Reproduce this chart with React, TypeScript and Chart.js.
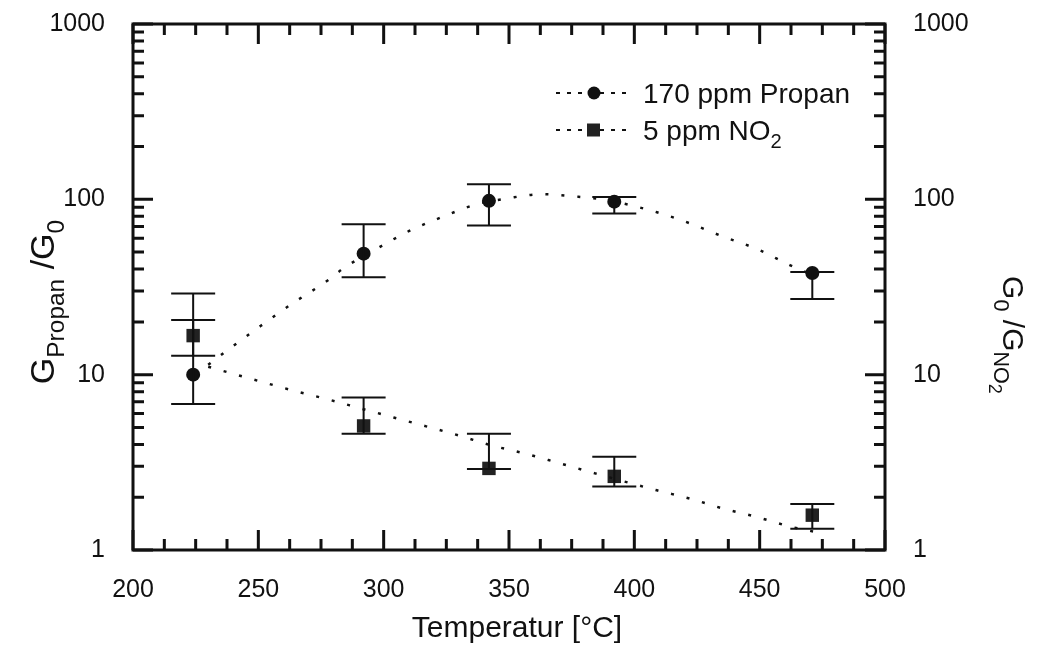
import React, { useEffect, useRef } from 'react';
import { Chart, registerables } from 'chart.js';

Chart.register(...registerables);

// ---- data ----
const temperatures = [224, 292, 342, 392, 471];
const propanValues = [10, 49, 98, 97, 38];
const propanLower = [6.8, 36, 71, 83, 27];
const propanUpper = [20.5, 72, 122, 103, 38.5];
const no2Values = [16.7, 5.1, 2.92, 2.63, 1.58];
const no2Lower = [12.8, 4.6, 2.9, 2.3, 1.32];
const no2Upper = [29, 7.4, 4.6, 3.4, 1.83];

const propanFitX = [230, 238, 251, 264, 278, 284, 297, 310, 324, 337, 349, 363, 376, 389, 409, 422, 435, 449, 462, 472];
const propanFitY = [11.4, 13.9, 19.0, 25.7, 34.7, 40.5, 52, 65.8, 80, 93.7, 101, 107, 104, 99, 84.4, 73.1, 61.6, 52, 42.2, 36.5];
const no2FitX = [230, 238, 251, 264, 278, 291, 304, 317, 330, 343, 356, 369, 383, 409, 423, 435, 449, 463, 472];
const no2FitY = [11.1, 10.3, 9.13, 8.11, 7.21, 6.41, 5.7, 5.07, 4.5, 3.95, 3.56, 3.16, 2.77, 2.19, 1.95, 1.73, 1.54, 1.35, 1.27];

const xTickLabels = [200, 250, 300, 350, 400, 450, 500];
const yTickLabels = [1, 10, 100, 1000];
const xMinorStep = 12.5;

const legendLabels = ['170 ppm Propan', '5 ppm NO'];
const xTitle = 'Temperatur [°C]';

const FONT = '"Liberation Sans", Arial, sans-serif';
const INK = '#111';

function drawSubText(ctx: CanvasRenderingContext2D, parts: { t: string; lvl: number }[], size: number, x: number, y: number, align: 'left' | 'center') {
  const sizes = [size, size * 0.72, size * 0.6];
  const offs = [0, size * 0.3, size * 0.48];
  let total = 0;
  for (const p of parts) {
    ctx.font = `${sizes[p.lvl]}px ${FONT}`;
    total += ctx.measureText(p.t).width;
  }
  let cx = align === 'center' ? x - total / 2 : x;
  ctx.textAlign = 'left';
  ctx.textBaseline = 'alphabetic';
  for (const p of parts) {
    ctx.font = `${sizes[p.lvl]}px ${FONT}`;
    ctx.fillText(p.t, cx, y + offs[p.lvl]);
    cx += ctx.measureText(p.t).width;
  }
}

const decorPlugin = {
  id: 'decor',
  afterDatasetsDraw(chart: any) {
    const ctx: CanvasRenderingContext2D = chart.ctx;
    const { left, right, top, bottom } = chart.chartArea;
    const xs = chart.scales.x;
    const ys = chart.scales.y;
    ctx.save();
    ctx.strokeStyle = INK;
    ctx.fillStyle = INK;

    // error bars
    const bars = [
      { lo: propanLower, hi: propanUpper },
      { lo: no2Lower, hi: no2Upper },
    ];
    ctx.lineWidth = 2;
    for (const b of bars) {
      temperatures.forEach((t, i) => {
        const px = xs.getPixelForValue(t);
        const pl = ys.getPixelForValue(b.lo[i]);
        const ph = ys.getPixelForValue(b.hi[i]);
        ctx.beginPath();
        ctx.moveTo(px, pl);
        ctx.lineTo(px, ph);
        ctx.moveTo(px - 22, pl);
        ctx.lineTo(px + 22, pl);
        ctx.moveTo(px - 22, ph);
        ctx.lineTo(px + 22, ph);
        ctx.stroke();
      });
    }

    // frame
    ctx.lineWidth = 3;
    ctx.strokeRect(left, top, right - left, bottom - top);

    // x ticks
    for (let v = xTickLabels[0]; v <= xTickLabels[xTickLabels.length - 1] + 0.01; v += xMinorStep) {
      const px = xs.getPixelForValue(v);
      const major = xTickLabels.includes(v);
      const len = major ? 20 : 11;
      ctx.beginPath();
      ctx.moveTo(px, bottom);
      ctx.lineTo(px, bottom - len);
      ctx.moveTo(px, top);
      ctx.lineTo(px, top + len);
      ctx.stroke();
    }
    // y ticks (log)
    for (let d = 0; d < yTickLabels.length; d++) {
      const base = yTickLabels[d];
      for (let m = 1; m <= 9; m++) {
        const v = base * m;
        if (v > yTickLabels[yTickLabels.length - 1]) break;
        const py = ys.getPixelForValue(v);
        const len = m === 1 ? 20 : 11;
        ctx.beginPath();
        ctx.moveTo(left, py);
        ctx.lineTo(left + len, py);
        ctx.moveTo(right, py);
        ctx.lineTo(right - len, py);
        ctx.stroke();
      }
    }

    // tick labels
    ctx.font = `25px ${FONT}`;
    ctx.textBaseline = 'middle';
    ctx.textAlign = 'center';
    for (const v of xTickLabels) {
      ctx.fillText(String(v), xs.getPixelForValue(v), bottom + 40);
    }
    for (const v of yTickLabels) {
      const py = ys.getPixelForValue(v);
      ctx.textAlign = 'right';
      ctx.fillText(String(v), left - 28, py);
      ctx.textAlign = 'left';
      ctx.fillText(String(v), right + 28, py);
    }

    // x title
    ctx.font = `30px ${FONT}`;
    ctx.textAlign = 'center';
    ctx.textBaseline = 'middle';
    ctx.fillText(xTitle, (left + right) / 2 + 8, 629);

    // left y title
    ctx.save();
    ctx.translate(54, 302);
    ctx.rotate(-Math.PI / 2);
    drawSubText(ctx, [
      { t: 'G', lvl: 0 },
      { t: 'Propan', lvl: 1 },
      { t: ' /G', lvl: 0 },
      { t: '0', lvl: 1 },
    ], 34, 0, 0, 'center');
    ctx.restore();

    // right y title
    ctx.save();
    ctx.translate(1003, 335);
    ctx.rotate(Math.PI / 2);
    drawSubText(ctx, [
      { t: 'G', lvl: 0 },
      { t: '0', lvl: 1 },
      { t: ' /G', lvl: 0 },
      { t: 'NO', lvl: 1 },
      { t: '2', lvl: 2 },
    ], 30, 0, 0, 'center');
    ctx.restore();

    // legend
    const rows = [93, 130];
    ctx.lineWidth = 2;
    ctx.setLineDash([4, 7]);
    rows.forEach((ry) => {
      ctx.beginPath();
      ctx.moveTo(556, ry);
      ctx.lineTo(630, ry);
      ctx.stroke();
    });
    ctx.setLineDash([]);
    ctx.beginPath();
    ctx.arc(594, rows[0], 6.5, 0, Math.PI * 2);
    ctx.fill();
    ctx.fillStyle = '#222';
    ctx.fillRect(587, rows[1] - 6.5, 13, 13);
    ctx.fillStyle = INK;
    drawSubText(ctx, [{ t: legendLabels[0], lvl: 0 }], 28, 643, rows[0] + 10, 'left');
    drawSubText(ctx, [{ t: legendLabels[1], lvl: 0 }, { t: '2', lvl: 1 }], 28, 643, rows[1] + 10, 'left');

    ctx.restore();
  },
};

export default function App() {
  const ref = useRef<HTMLCanvasElement>(null);
  useEffect(() => {
    if (!ref.current) return;
    const zeroW = (s: any) => { s.width = 0; };
    const zeroH = (s: any) => { s.height = 0; };
    const chart = new Chart(ref.current, {
      type: 'scatter',
      data: {
        datasets: [
          {
            label: 'Propan fit',
            data: propanFitX.map((x, i) => ({ x, y: propanFitY[i] })),
            showLine: true,
            borderColor: INK,
            borderWidth: 2.5,
            borderDash: [3, 13],
            pointRadius: 0,
            cubicInterpolationMode: 'monotone',
            yAxisID: 'y',
          },
          {
            label: 'NO2 fit',
            data: no2FitX.map((x, i) => ({ x, y: no2FitY[i] })),
            showLine: true,
            borderColor: INK,
            borderWidth: 2.5,
            borderDash: [3, 13],
            pointRadius: 0,
            cubicInterpolationMode: 'monotone',
            yAxisID: 'y',
          },
          {
            label: '170 ppm Propan',
            data: temperatures.map((x, i) => ({ x, y: propanValues[i] })),
            showLine: false,
            pointStyle: 'circle',
            pointRadius: 7,
            backgroundColor: INK,
            borderColor: INK,
            borderWidth: 0,
            yAxisID: 'y',
          },
          {
            label: '5 ppm NO2',
            data: temperatures.map((x, i) => ({ x, y: no2Values[i] })),
            showLine: false,
            pointStyle: 'rect',
            pointRadius: 9.5,
            backgroundColor: '#222',
            borderColor: '#222',
            borderWidth: 0,
            yAxisID: 'y2',
          },
        ],
      },
      options: {
        responsive: false,
        animation: false,
        layout: { padding: { left: 133, right: 163, top: 24, bottom: 107 } },
        plugins: { legend: { display: false }, tooltip: { enabled: false } },
        scales: {
          x: {
            type: 'linear', min: 200, max: 500, position: 'bottom',
            ticks: { display: false }, grid: { display: false, drawTicks: false }, border: { display: false },
            afterFit: zeroH,
          },
          y: {
            type: 'logarithmic', min: 1, max: 1000, position: 'left',
            ticks: { display: false }, grid: { display: false, drawTicks: false }, border: { display: false },
            afterFit: zeroW,
          },
          y2: {
            type: 'logarithmic', min: 1, max: 1000, position: 'right',
            ticks: { display: false }, grid: { display: false, drawTicks: false }, border: { display: false },
            afterFit: zeroW,
          },
        },
      },
      plugins: [decorPlugin],
    } as any);
    return () => chart.destroy();
  }, []);
  return (
    <div style={{ position: 'absolute', left: 0, top: 0, width: 1048, height: 657, background: '#fff' }}>
      <canvas ref={ref} width={1048} height={657} style={{ display: 'block', width: 1048, height: 657 }} />
    </div>
  );
}
